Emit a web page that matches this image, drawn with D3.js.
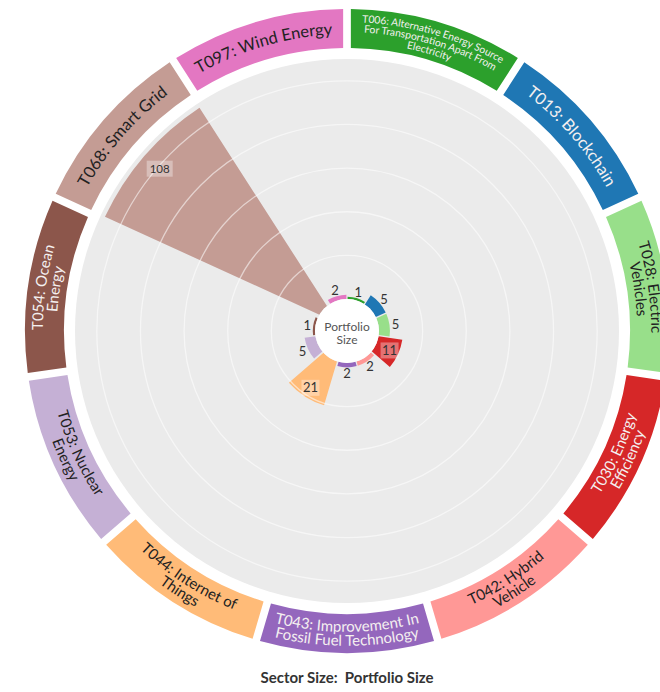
<!DOCTYPE html>
<html>
<head>
<meta charset="utf-8">
<script src="https://cdn.jsdelivr.net/npm/d3@7"></script>
<style>
    body { margin: 0; background: #fff; }
    text { font-family: Lato, "Open Sans", sans-serif; }
</style>
</head>
<body>
<div class="chart"></div>
<script>

// sectors, clockwise from 12 o'clock
const codes = ["T006", "T013", "T028", "T030", "T042", "T043", "T044", "T053", "T054", "T068", "T097"];
const sectorLabels = [
    ["T006: Alternative Energy Source", "For Transportation Apart From", "Electricity"],
    ["T013: Blockchain"],
    ["T028: Electric", "Vehicles"],
    ["T030: Energy", "Efficiency"],
    ["T042: Hybrid", "Vehicle"],
    ["T043: Improvement In", "Fossil Fuel Technology"],
    ["T044: Internet of", "Things"],
    ["T053: Nuclear", "Energy"],
    ["T054: Ocean", "Energy"],
    ["T068: Smart Grid"],
    ["T097: Wind Energy"]
];
const portfolioSize = [1, 5, 5, 11, 2, 2, 21, 5, 1, 108, 2];
const gridValues = [20, 40, 60, 80, 100];
const centerLines = ["Portfolio", "Size"];
const footer = "Sector Size:  Portfolio Size";

const palette = ["#2ca02c", "#1f77b4", "#98df8a", "#d62728", "#ff9896", "#9467bd",
                 "#ffbb78", "#c5b0d5", "#8c564b", "#c49c94", "#e377c2"];


function RadialBars(container) {

    const width = 660, height = 692;
    const cx = 347, cy = 331;
    const innerR = 32, diskR = 272;
    const ringIn = 283, ringOut = 322;

    const svg = d3.select(container)
        .append("svg")
        .attr("width", width)
        .attr("height", height);

    const g = svg.append("g")
        .attr("transform", `translate(${cx}, ${cy})`);

    const x = d3.scaleBand().domain(codes).range([0, 2 * Math.PI]);
    const y = d3.scaleLinear().domain([0, 110]).range([innerR, diskR]);
    const color = d3.scaleOrdinal().domain(codes).range(palette);

    const data = codes.map((c, i) => ({
        code: c,
        value: portfolioSize[i],
        lines: sectorLabels[i],
        a0: x(c),
        a1: x(c) + x.bandwidth()
    }));

    // grey background disk
    g.append("circle")
        .attr("r", diskR)
        .attr("fill", "#ebebeb");

    // bars
    const barArc = d3.arc()
        .innerRadius(innerR)
        .outerRadius(d => y(d.value))
        .startAngle(d => d.a0)
        .endAngle(d => d.a1)
        .padAngle(0.025);

    g.selectAll(".bar")
        .data(data)
        .join("path")
        .attr("class", "bar")
        .attr("d", barArc)
        .attr("fill", d => color(d.code));

    // grid rings (drawn over the bars, like the original)
    g.selectAll(".grid")
        .data(gridValues)
        .join("circle")
        .attr("class", "grid")
        .attr("r", d => y(d))
        .attr("fill", "none")
        .attr("stroke", "#fff")
        .attr("stroke-opacity", 0.55)
        .attr("stroke-width", 1.3);

    // centre hole
    g.append("circle")
        .attr("r", innerR)
        .attr("fill", "#fff");
    g.append("text")
        .attr("text-anchor", "middle")
        .attr("font-size", 12)
        .attr("fill", "#555")
        .selectAll("tspan")
        .data(centerLines)
        .join("tspan")
        .attr("x", 0)
        .attr("y", (d, i) => 0 + i * 13)
        .text(d => d);

    // value labels
    const labelR = d => d.value >= 10
        ? y(d.value) - 8 - (y(d.value) - innerR) * 0.05
        : y(d.value) + 6;
    const polar = (a, r) => [r * Math.sin(a), -r * Math.cos(a)];

    const vl = g.selectAll(".vlabel")
        .data(data)
        .join("g")
        .attr("class", "vlabel")
        .attr("transform", d => {
            const p = polar((d.a0 + d.a1) / 2, labelR(d));
            return `translate(${p[0]}, ${p[1]})`;
        });

    vl.filter(d => d.value >= 10)
        .append("rect")
        .attr("x", d => d.value >= 100 ? -13 : -9)
        .attr("y", -8)
        .attr("width", d => d.value >= 100 ? 26 : 18)
        .attr("height", 16)
        .attr("fill", "#fff")
        .attr("fill-opacity", 0.35);

    vl.append("text")
        .attr("text-anchor", "middle")
        .attr("dy", "0.35em")
        .attr("font-size", d => d.value >= 100 ? 11.5 : 13)
        .attr("fill", "#333")
        .text(d => d.value);

    // outer ring with sector names
    const ringArc = d3.arc()
        .innerRadius(ringIn)
        .outerRadius(ringOut)
        .startAngle(d => d.a0)
        .endAngle(d => d.a1)
        .padAngle(0.018);

    g.selectAll(".ring")
        .data(data)
        .join("path")
        .attr("class", "ring")
        .attr("d", ringArc)
        .attr("fill", d => color(d.code));

    const fontSize = { 1: 16.5, 2: 15, 3: 10.3 };
    const lineH = { 1: 0, 2: 14, 3: 10 };
    const midR = (ringIn + ringOut) / 2;

    const labelPaths = [];
    data.forEach((d, i) => {
        const n = d.lines.length;
        const fs = fontSize[n];
        const mid = (d.a0 + d.a1) / 2;
        const flip = mid > Math.PI / 2 && mid < Math.PI * 3 / 2;
        d.lines.forEach((line, j) => {
            let r;
            if (!flip) r = midR - 0.35 * fs + ((n - 1) / 2 - j) * lineH[n];
            else r = midR + 0.35 * fs + (j - (n - 1) / 2) * lineH[n];
            const s = polar(flip ? d.a1 : d.a0, r);
            const e = polar(flip ? d.a0 : d.a1, r);
            labelPaths.push({
                id: `lp-${i}-${j}`,
                d: `M${s[0]},${s[1]} A${r},${r} 0 0 ${flip ? 0 : 1} ${e[0]},${e[1]}`,
                text: line,
                fs: fs,
                light: d3.hsl(color(d.code)).l < 0.6
            });
        });
    });

    g.append("defs")
        .selectAll("path")
        .data(labelPaths)
        .join("path")
        .attr("id", d => d.id)
        .attr("d", d => d.d);

    g.selectAll(".rlabel")
        .data(labelPaths)
        .join("text")
        .attr("class", "rlabel")
        .attr("font-size", d => d.fs)
        .attr("fill", d => d.light ? "#f4f0f0" : "#222")
        .append("textPath")
        .attr("href", d => "#" + d.id)
        .attr("startOffset", "50%")
        .attr("text-anchor", "middle")
        .text(d => d.text);

    // footer
    svg.append("text")
        .attr("x", cx)
        .attr("y", 683)
        .attr("text-anchor", "middle")
        .attr("font-size", 15)
        .attr("font-weight", "bold")
        .attr("fill", "#333")
        .style("white-space", "pre")
        .text(footer);
}

RadialBars(".chart");
</script>
</body>
</html>
